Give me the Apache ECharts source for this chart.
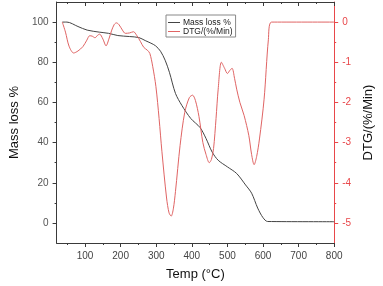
<!DOCTYPE html>
<html>
<head>
<meta charset="utf-8">
<script src="https://cdn.jsdelivr.net/npm/echarts@6/dist/echarts.min.js"></script>
<style>html,body{margin:0;padding:0;background:#fff}#c{width:383px;height:286px}</style>
</head>
<body>
<div id="c"></div>
<script>
// ---- data ----
var massTemp = [36, 49, 80, 106, 140, 166, 192, 225, 251, 269, 285, 298, 312, 325, 337, 354, 372, 397, 423, 440, 457, 474, 500, 526, 551, 568, 585, 600, 613, 800];
var massVal  = [100, 100, 97.8, 96, 95, 94.4, 93.3, 92.8, 92.3, 90.8, 89.5, 88.2, 85.5, 81, 75, 64.5, 58.5, 52, 47.5, 42, 35.3, 31.2, 27.9, 24.6, 18.9, 14.8, 7.4, 2.6, 0.7, 0.6];
var dtgTemp = [36, 45, 55, 68, 80, 94, 105, 113, 120, 128, 135, 141, 150, 159, 167, 175, 182, 188, 195, 205, 213, 225, 236, 245, 256, 265, 275, 282, 290, 299, 308, 316, 329, 336, 342, 348, 354, 367, 380, 393, 402, 410, 420, 431, 440, 449, 455, 461, 468, 474, 483, 492, 500, 507, 513, 520, 526, 535, 547, 560, 568, 575, 582, 590, 603, 615, 624, 800];
var dtgVal  = [0, -0.25, -0.6, -0.77, -0.72, -0.61, -0.45, -0.34, -0.35, -0.39, -0.33, -0.30, -0.42, -0.59, -0.42, -0.2, -0.06, -0.02, -0.06, -0.2, -0.28, -0.27, -0.24, -0.33, -0.49, -0.63, -0.7, -0.78, -1.1, -1.6, -2.4, -3.23, -4.38, -4.75, -4.83, -4.65, -4.22, -3.07, -2.25, -1.88, -1.82, -1.95, -2.35, -3.0, -3.3, -3.5, -3.42, -3.15, -2.4, -1.67, -1.0, -1.15, -1.28, -1.2, -1.15, -1.4, -1.67, -2.0, -2.33, -2.82, -3.3, -3.55, -3.35, -2.91, -1.92, -0.44, 0, 0];
var xMajor = [100, 200, 300, 400, 500, 600, 700, 800];
var xMinor = [50, 150, 250, 350, 450, 550, 650, 750];
var yMajor = [0, 20, 40, 60, 80, 100];
var yMinor = [10, 30, 50, 70, 90];
var rMajor = [-5, -4, -3, -2, -1, 0];
var rMinor = [-4.5, -3.5, -2.5, -1.5, -0.5];
var seriesNames = ['Mass loss %', 'DTG/(%/Min)'];

function zip(a, b) { return a.map(function (v, i) { return [v, b[i]]; }); }

var FONT = 'Liberation Sans, Arial, sans-serif';
var DARK = '#3a3a3a';
var RED = '#e8474a';

function xAx(pos, values, len, inside, showLine, labels) {
  return {
    type: 'value', position: pos, min: 20, max: 800,
    axisLine: { show: showLine, onZero: false, lineStyle: { color: DARK, width: 1 } },
    axisTick: { show: true, inside: inside, length: len, customValues: values, lineStyle: { color: DARK } },
    axisLabel: labels ? { show: true, customValues: values, color: '#444', fontSize: 10, fontFamily: FONT, margin: 8 } : { show: false },
    splitLine: { show: false }
  };
}

var option = {
  animation: false,
  backgroundColor: '#fff',
  grid: { left: 43, right: 36, top: 2, bottom: 40 },
  legend: {
    orient: 'vertical', left: 166, top: 15,
    data: seriesNames,
    icon: 'rect', itemWidth: 12, itemHeight: 1, itemGap: 0,
    padding: [3, 3, 1, 2],
    borderColor: '#888', borderWidth: 1,
    textStyle: { fontSize: 8.5, fontFamily: FONT, color: '#222', lineHeight: 9, padding: [0, 0, 0, -2] }
  },
  xAxis: [
    Object.assign(xAx('bottom', xMajor, 4, false, true, true), {
      name: 'Temp (°C)', nameLocation: 'middle', nameGap: 25,
      nameTextStyle: { fontSize: 13, fontFamily: FONT, color: '#111' }
    }),
    xAx('bottom', xMinor, 2, false, false, false),
    xAx('top', xMajor, 4, true, true, false),
    xAx('top', xMinor, 2, true, false, false)
  ],
  yAxis: [
    {
      type: 'value', position: 'left', min: -10, max: 110,
      name: 'Mass loss %', nameLocation: 'middle', nameGap: 34, nameRotate: 90,
      nameTextStyle: { fontSize: 13, fontFamily: FONT, color: '#111' },
      axisLine: { show: true, onZero: false, lineStyle: { color: DARK } },
      axisTick: { show: true, length: 4, customValues: yMajor, lineStyle: { color: DARK } },
      axisLabel: { customValues: yMajor, color: '#555', fontSize: 10, fontFamily: FONT, margin: 8 },
      splitLine: { show: false }
    },
    {
      type: 'value', position: 'left', min: -10, max: 110,
      axisLine: { show: false },
      axisTick: { show: true, length: 2, customValues: yMinor, lineStyle: { color: DARK } },
      axisLabel: { show: false }, splitLine: { show: false }
    },
    {
      type: 'value', position: 'right', min: -5.5, max: 0.5,
      name: 'DTG/(%/Min)', nameLocation: 'middle', nameGap: 26, nameRotate: 90,
      nameTextStyle: { fontSize: 13, fontFamily: FONT, color: '#111' },
      axisLine: { show: true, onZero: false, lineStyle: { color: RED } },
      axisTick: { show: true, length: 4, customValues: rMajor, lineStyle: { color: RED } },
      axisLabel: { customValues: rMajor, color: RED, fontSize: 10, fontFamily: FONT, margin: 8 },
      splitLine: { show: false }
    },
    {
      type: 'value', position: 'right', min: -5.5, max: 0.5,
      axisLine: { show: false },
      axisTick: { show: true, length: 2, customValues: rMinor, lineStyle: { color: RED } },
      axisLabel: { show: false }, splitLine: { show: false }
    }
  ],
  series: [
    {
      name: seriesNames[0], type: 'line', xAxisIndex: 0, yAxisIndex: 0,
      data: zip(massTemp, massVal), showSymbol: false, symbol: 'none', smooth: 0.3,
      lineStyle: { color: '#444', width: 1 }, itemStyle: { color: '#444' }
    },
    {
      name: seriesNames[1], type: 'line', xAxisIndex: 0, yAxisIndex: 2,
      data: zip(dtgTemp, dtgVal), showSymbol: false, symbol: 'none', smooth: 0.3,
      lineStyle: { color: '#e06464', width: 1 }, itemStyle: { color: '#e06464' }
    }
  ]
};
var chart = echarts.init(document.getElementById('c'), null, { renderer: 'canvas' });
chart.setOption(option);
</script>
</body>
</html>
